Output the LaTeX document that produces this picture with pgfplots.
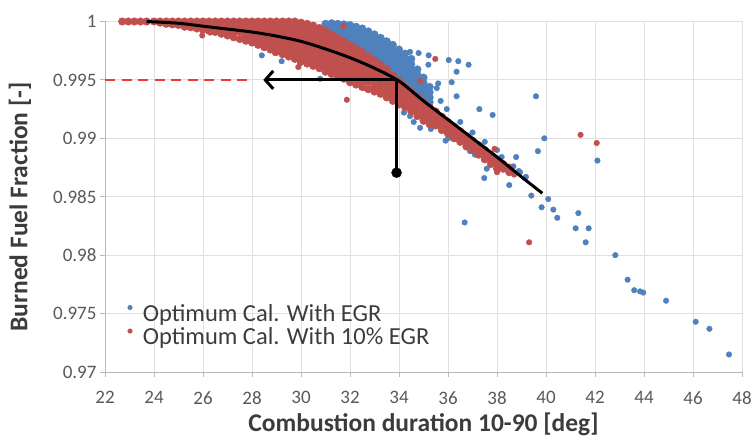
\documentclass[border=0pt]{standalone}
\usepackage{fontspec}
\setmainfont{Carlito}
\usepackage{pgfplots}
\pgfplotsset{compat=1.18}
\usetikzlibrary{arrows.meta}
\definecolor{exblue}{RGB}{79,129,189}
\definecolor{exred}{RGB}{192,80,77}
\definecolor{dashred}{RGB}{232,60,64}
\definecolor{gridgray}{RGB}{224,224,224}
\definecolor{axgray}{RGB}{185,185,185}
\definecolor{txtgray}{RGB}{89,89,89}
\definecolor{lblgray}{RGB}{60,60,60}
\begin{document}
\begin{tikzpicture}
\useasboundingbox (0,0) rectangle (754pt,439pt);
\begin{axis}[
  at={(105pt,67pt)}, anchor=south west,
  scale only axis, width=637pt, height=350.5pt,
  xmin=22, xmax=48, ymin=0.97, ymax=1,
  xtick={22,24,26,28,30,32,34,36,38,40,42,44,46,48},
  xticklabels={22,24,26,28,30,32,34,36,38,40,42,44,46,48},
  ytick={0.97,0.975,0.98,0.985,0.99,0.995,1},
  yticklabels={0.97,0.975,0.98,0.985,0.99,0.995,1},
  ticklabel style={font=\fontsize{19}{20}\selectfont, text=txtgray},
  xticklabel style={yshift=-11pt},
  axis x line*=bottom, axis y line*=left,
  axis line style={axgray, line width=1pt},
  grid=major, major grid style={gridgray, line width=1pt},
  tick align=outside, major tick length=5pt,
  tick style={axgray, line width=1pt},
  clip=false, clip marker paths=true,
  xlabel={Combustion duration 10-90 [deg]},
  ylabel={Burned Fuel Fraction [-]},
  every axis x label/.style={at={(axis description cs:0.5,-0.148)}, anchor=center,
     font=\fontsize{25.5}{28}\selectfont\bfseries, text=lblgray},
  every axis y label/.style={at={(axis description cs:-0.1334,0.4708)}, anchor=center, rotate=90,
     font=\fontsize{25.5}{28}\selectfont\bfseries, text=lblgray},
  legend style={at={(axis description cs:0,0)}, anchor=south west, xshift=22.5pt, yshift=21pt,
     draw=none, fill=none, inner sep=0pt, font=\fontsize{24.5}{22}\selectfont, text=lblgray,
     nodes={inner sep=0pt, text height=17.5pt, text depth=6pt}, row sep=0pt,
     /tikz/every odd column/.append style={column sep=10.5pt}},
  legend cell align=left,
  legend image code/.code={\draw[#1, mark size=2.3pt] plot coordinates {(0pt,8pt)};},
]
% Blue: dense cluster
\addplot[only marks, mark=*, mark size=3.8pt, mark options={fill=exblue, draw=exblue}, forget plot] coordinates {
(31,0.9998)(31,0.99955)(31,0.9993)
(31.25,0.99985)(31.25,0.9994)(31.25,0.99895)
(31.5,0.9998)(31.5,0.99935)(31.5,0.9989)(31.5,0.99855)
(31.75,0.99975)(31.75,0.9993)(31.75,0.99885)(31.75,0.9984)
(32,0.9997)(32,0.99925)(32,0.9988)(32,0.99835)(32,0.9979)
(32.25,0.99955)(32.25,0.9991)(32.25,0.99865)(32.25,0.9982)(32.25,0.99775)
(32.5,0.9994)(32.5,0.99895)(32.5,0.9985)(32.5,0.99805)(32.5,0.9976)
(32.75,0.99915)(32.75,0.9987)(32.75,0.99825)(32.75,0.9978)(32.75,0.99735)
(33,0.9989)(33,0.99845)(33,0.998)(33,0.99755)(33,0.9971)
(33.25,0.9986)(33.25,0.99815)(33.25,0.9977)(33.25,0.99725)(33.25,0.9968)
(33.5,0.9983)(33.5,0.99785)(33.5,0.9974)(33.5,0.99695)(33.5,0.9965)(33.5,0.996)
(33.75,0.998)(33.75,0.99755)(33.75,0.9971)(33.75,0.99665)(33.75,0.9962)(33.75,0.99575)
(34,0.9976)(34,0.99715)(34,0.9967)(34,0.99625)(34,0.9958)(34,0.99535)
(34.25,0.99725)(34.25,0.9968)(34.25,0.99635)(34.25,0.9959)(34.25,0.99545)(34.25,0.995)
(34.5,0.9968)(34.5,0.99635)(34.5,0.9959)(34.5,0.99545)(34.5,0.995)(34.5,0.99455)(34.5,0.9941)
(34.75,0.9959)(34.75,0.99545)(34.75,0.995)(34.75,0.99455)(34.75,0.9941)(34.75,0.9937)
(35,0.9952)(35,0.99475)(35,0.9943)(35,0.99385)(35,0.9934)
(35.25,0.9944)(35.25,0.99395)(35.25,0.9935)(35.25,0.9931)
};
% Blue: scattered points
\addplot[only marks, mark=*, mark size=2.8pt, mark options={fill=exblue, draw=exblue}] coordinates {
(28.4,0.9971)(29.21,0.9966)(29.96,0.9964)(30.5,0.9966)(30.78,0.9951)(31.2,0.9961)(31.32,0.9963)(32.0,0.9948)(30.78,0.9967)
(34.11,0.9966)(34.45,0.9974)(34.8,0.9973)(35.21,0.9971)(35.2,0.9963)(36.03,0.9967)(36.42,0.9966)(36.84,0.9963)(36.35,0.9957)(36.15,0.9948)(35.54,0.9943)(35.6,0.9947)(36.35,0.9936)(35.7,0.9932)(35.95,0.9925)
(37.28,0.9925)(37.82,0.9920)(39.59,0.9936)(39.93,0.9900)(39.67,0.9889)(42.1,0.9881)
(34.86,0.9909)(34.45,0.9919)(34.2,0.9922)(34.6,0.9914)(35.3,0.9908)(35.9,0.9898)(36.01,0.9900)(36.9,0.9889)(37.1,0.9886)(37.58,0.9874)(38.5,0.9860)
(36.5,0.9914)(37,0.9905)(37.5,0.9897)(38,0.989)(38.19,0.9884)(38.67,0.9876)(38.94,0.9871)(39.14,0.9866)(38.78,0.9884)(38.89,0.9872)(39.18,0.9867)(37.48,0.9866)
(39.4,0.9851)(40.09,0.9848)(39.82,0.9841)(40.3,0.9839)(40.46,0.9832)(41.32,0.9836)(41.21,0.9823)(41.74,0.9823)(41.62,0.9811)(42.83,0.98)(43.33,0.9779)(43.6,0.977)(43.84,0.9769)(43.97,0.9768)(44.9,0.9761)(46.11,0.9743)(46.67,0.9737)(47.47,0.9715)(36.68,0.9828)
};
\addlegendentry{Optimum Cal. With EGR}
% Red: dense band
\addplot[only marks, mark=*, mark size=3.8pt, mark options={fill=exred, draw=exred}, forget plot] coordinates {
(22.7,1)(22.95,1)(23.2,1)(23.45,1)(23.7,1)(24,1)
(24.25,1)(24.25,0.9999)
(24.5,1)(24.5,0.9998)
(24.75,1)(24.75,0.99975)
(25,1)(25,0.9997)
(25.25,1)(25.25,0.99955)
(25.5,1)(25.5,0.9995)
(25.75,1)(25.75,0.9996)(25.75,0.9994)
(26,1)(26,0.99955)(26,0.9993)
(26.25,1)(26.25,0.9996)(26.25,0.9992)
(26.5,1)(26.5,0.99955)(26.5,0.9991)
(26.75,1)(26.75,0.99955)(26.75,0.9991)(26.75,0.99895)
(27,1)(27,0.99955)(27,0.9991)(27,0.9988)
(27.25,1)(27.25,0.99955)(27.25,0.9991)(27.25,0.99865)
(27.5,1)(27.5,0.99955)(27.5,0.9991)(27.5,0.9985)
(27.75,1)(27.75,0.9996)(27.75,0.9992)(27.75,0.9988)(27.75,0.99835)
(28,1)(28,0.99955)(28,0.9991)(28,0.99865)(28,0.9982)
(28.25,1)(28.25,0.9996)(28.25,0.9992)(28.25,0.9988)(28.25,0.9984)(28.25,0.998)
(28.5,1)(28.5,0.99955)(28.5,0.9991)(28.5,0.99865)(28.5,0.9982)(28.5,0.9978)
(28.75,1)(28.75,0.9996)(28.75,0.9992)(28.75,0.9988)(28.75,0.9984)(28.75,0.998)(28.75,0.9976)
(29,1)(29,0.99955)(29,0.9991)(29,0.99865)(29,0.9982)(29,0.99775)(29,0.9974)
(29.25,1)(29.25,0.9996)(29.25,0.9992)(29.25,0.9988)(29.25,0.9984)(29.25,0.998)(29.25,0.9976)(29.25,0.9972)
(29.5,1)(29.5,0.99955)(29.5,0.9991)(29.5,0.99865)(29.5,0.9982)(29.5,0.99775)(29.5,0.9973)(29.5,0.997)
(29.75,1)(29.75,0.9996)(29.75,0.9992)(29.75,0.9988)(29.75,0.9984)(29.75,0.998)(29.75,0.9976)(29.75,0.9972)(29.75,0.9968)
(30,0.9999)(30,0.99945)(30,0.999)(30,0.99855)(30,0.9981)(30,0.99765)(30,0.9972)(30,0.99675)(30,0.9966)
(30.25,0.9998)(30.25,0.9994)(30.25,0.999)(30.25,0.9986)(30.25,0.9982)(30.25,0.9978)(30.25,0.9974)(30.25,0.997)(30.25,0.9966)(30.25,0.9964)
(30.5,0.99965)(30.5,0.9992)(30.5,0.99875)(30.5,0.9983)(30.5,0.99785)(30.5,0.9974)(30.5,0.99695)(30.5,0.9965)(30.5,0.9962)
(30.75,0.99945)(30.75,0.999)(30.75,0.99855)(30.75,0.9981)(30.75,0.99765)(30.75,0.9972)(30.75,0.99675)(30.75,0.9963)(30.75,0.996)
(31,0.9992)(31,0.99875)(31,0.9983)(31,0.99785)(31,0.9974)(31,0.99695)(31,0.9965)(31,0.99605)(31,0.9957)
(31.25,0.9989)(31.25,0.99845)(31.25,0.998)(31.25,0.99755)(31.25,0.9971)(31.25,0.99665)(31.25,0.9962)(31.25,0.99575)(31.25,0.9955)
(31.5,0.9986)(31.5,0.99815)(31.5,0.9977)(31.5,0.99725)(31.5,0.9968)(31.5,0.99635)(31.5,0.9959)(31.5,0.99545)(31.5,0.9953)
(31.75,0.9983)(31.75,0.99785)(31.75,0.9974)(31.75,0.99695)(31.75,0.9965)(31.75,0.99605)(31.75,0.9956)(31.75,0.9951)
(32,0.998)(32,0.99755)(32,0.9971)(32,0.99665)(32,0.9962)(32,0.99575)(32,0.9953)(32,0.9948)
(32.25,0.9977)(32.25,0.99725)(32.25,0.9968)(32.25,0.99635)(32.25,0.9959)(32.25,0.99545)(32.25,0.995)(32.25,0.9946)
(32.5,0.9974)(32.5,0.99695)(32.5,0.9965)(32.5,0.99605)(32.5,0.9956)(32.5,0.99515)(32.5,0.9947)(32.5,0.9944)
(32.75,0.99705)(32.75,0.9966)(32.75,0.99615)(32.75,0.9957)(32.75,0.99525)(32.75,0.9948)(32.75,0.9942)
(33,0.9967)(33,0.99625)(33,0.9958)(33,0.99535)(33,0.9949)(33,0.99445)(33,0.994)
(33.25,0.9963)(33.25,0.99585)(33.25,0.9954)(33.25,0.99495)(33.25,0.9945)(33.25,0.99405)(33.25,0.9938)
(33.5,0.9959)(33.5,0.99545)(33.5,0.995)(33.5,0.99455)(33.5,0.9941)(33.5,0.99365)(33.5,0.9935)
(33.75,0.9954)(33.75,0.99495)(33.75,0.9945)(33.75,0.99405)(33.75,0.9936)(33.75,0.9932)
(34,0.9949)(34,0.99445)(34,0.994)(34,0.99355)(34,0.9931)(34,0.9929)
(34.25,0.99445)(34.25,0.994)(34.25,0.99355)(34.25,0.9931)(34.25,0.99265)
(34.5,0.994)(34.5,0.99355)(34.5,0.9931)(34.5,0.99265)(34.5,0.9923)
(34.75,0.99355)(34.75,0.9931)(34.75,0.99265)(34.75,0.9922)(34.75,0.9919)
(35,0.9931)(35,0.99265)(35,0.9922)(35,0.99175)(35,0.9915)
(35.25,0.9927)(35.25,0.99225)(35.25,0.9918)(35.25,0.99135)(35.25,0.9912)
(35.5,0.9923)(35.5,0.99185)(35.5,0.9914)(35.5,0.9911)
(35.75,0.99185)(35.75,0.9914)(35.75,0.99095)(35.75,0.9907)
(36,0.9914)(36,0.99095)(36,0.9905)(36,0.9904)
(36.25,0.991)(36.25,0.99055)(36.25,0.9901)(36.25,0.99)
(36.5,0.9906)(36.5,0.99015)(36.5,0.9897)
(36.75,0.9902)(36.75,0.98975)(36.75,0.9893)
(37,0.9898)(37,0.98935)(37,0.989)
(37.25,0.9894)(37.25,0.98895)(37.25,0.9886)
(37.5,0.989)(37.5,0.98855)(37.5,0.9882)
(37.75,0.9886)(37.75,0.98815)(37.75,0.9878)
(38,0.9882)(38,0.98775)(38,0.9874)
(38.25,0.9878)(38.25,0.9874)
(38.5,0.9875)(38.5,0.9871)
};
% Red: scattered points
\addplot[only marks, mark=*, mark size=2.8pt, mark options={fill=exred, draw=exred}] coordinates {
(25.97,0.9988)(26.29,0.99905)(28.94,0.9973)(29.89,0.9961)(31.87,0.9933)(32.6,0.9943)(31.73,0.9996)(35.48,0.9968)(34.86,0.9949)(37.9,0.9891)(38.0,0.9871)(38.7,0.9869)(39.31,0.9811)(41.41,0.9903)(42.07,0.9896)
};
\addlegendentry{Optimum Cal. With 10\% EGR}
% Trend curve
\addplot[black, line width=3pt, smooth, forget plot] coordinates {
(23.7,1)(25,0.99985)(26,0.9996)(27,0.99935)(28,0.9991)(29,0.99875)(30,0.9983)(31,0.99765)(32,0.9969)(33,0.996)(34,0.9949)(35,0.9932)(36,0.9916)(37,0.99)(38,0.9884)(39,0.9867)(39.85,0.9853)
};
% Red dashed level
\addplot[dashred, line width=2.5pt, dash pattern=on 10pt off 6.5pt, forget plot] coordinates {(22,0.995)(27.8,0.995)};
% Arrow and drop line
\addplot[black, line width=3pt, -{Straight Barb[length=8pt,width=18pt]}, forget plot] coordinates {(33.9,0.995)(28.46,0.995)};
\addplot[black, line width=3pt, forget plot] coordinates {(33.9,0.995)(33.9,0.98706)};
\addplot[only marks, mark=*, mark size=5pt, black, forget plot] coordinates {(33.9,0.98706)};
\end{axis}
\end{tikzpicture}
\end{document}
